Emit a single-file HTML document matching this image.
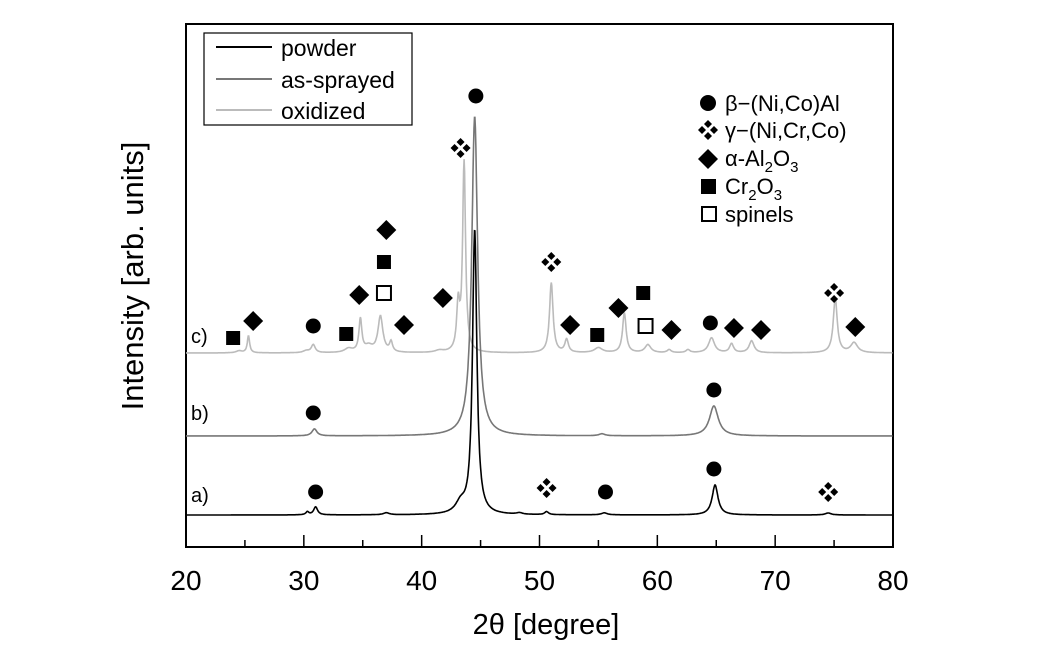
<!DOCTYPE html>
<html><head><meta charset="utf-8"><style>
body{margin:0;background:#fff}
svg{display:block;font-family:"Liberation Sans",Arial,sans-serif}
</style></head><body>
<svg id="chart" width="1038" height="661" viewBox="0 0 1038 661" xmlns="http://www.w3.org/2000/svg">
<rect x="186" y="24" width="707" height="523" fill="none" stroke="#000" stroke-width="2"/>
<g id="ticks"></g>
<g id="series"></g>
<g id="marks"></g>
<text x="546" y="634" font-size="29" text-anchor="middle">2θ [degree]</text>
<text transform="translate(143,276) rotate(-90)" font-size="31" text-anchor="middle">Intensity [arb. units]</text>
<text x="191" y="343" font-size="20">c)</text>
<text x="191" y="420" font-size="20">b)</text>
<text x="191" y="502" font-size="20">a)</text>
<g>
<rect x="204" y="33" width="208" height="92" fill="#fff" stroke="#000" stroke-width="1.2"/>
<line x1="216" y1="47" x2="272" y2="47" stroke="#000" stroke-width="2"/>
<line x1="216" y1="79" x2="272" y2="79" stroke="#777" stroke-width="2"/>
<line x1="216" y1="110" x2="272" y2="110" stroke="#bbb" stroke-width="2"/>
<text x="281" y="56" font-size="23">powder</text>
<text x="281" y="88" font-size="23">as-sprayed</text>
<text x="281" y="119" font-size="23">oxidized</text>
</g>
<g font-size="22">
<circle cx="708" cy="103" r="8"/><text x="725" y="111">β−(Ni,Co)Al</text>
<g transform="translate(708,130)"><polygon points="0,-10 4,-6 0,-2 -4,-6"/><polygon points="0,2 4,6 0,10 -4,6"/><polygon points="-6,-4 -2,0 -6,4 -10,0"/><polygon points="6,-4 10,0 6,4 2,0"/></g><text x="725" y="138">γ−(Ni,Cr,Co)</text>
<polygon points="708,149 718,159 708,169 698,159"/><text x="725" y="166">α-Al<tspan font-size="15" dy="6">2</tspan><tspan dy="-6">O</tspan><tspan font-size="15" dy="6">3</tspan></text>
<rect x="701" y="179" width="15" height="15"/><text x="725" y="194">Cr<tspan font-size="15" dy="6">2</tspan><tspan dy="-6">O</tspan><tspan font-size="15" dy="6">3</tspan></text>
<rect x="702" y="207" width="14" height="14" fill="#fff" stroke="#000" stroke-width="2"/><text x="725" y="222">spinels</text>
</g>
</svg>
<script>
const NS="http://www.w3.org/2000/svg";
const xTicks=[20,30,40,50,60,70,80];
// peak lists: position (deg), height (arb), width (deg)
const powderPos=[30.3,31.0,37.0,43.3,44.5,48.3,50.6,55.5,64.9,74.5];
const powderH=[3,8,2,10,285,1.5,3,2,30,2];
const powderW=[0.15,0.2,0.3,0.5,0.22,0.3,0.2,0.3,0.3,0.3];
const spraydPos=[30.9,44.5,55.3,64.8];
const spraydH=[7,320,2,30];
const spraydW=[0.25,0.3,0.3,0.45];
const oxPos=[24.5,25.3,30.2,30.8,33.8,34.8,35.5,36.5,37.4,41.5,43.1,43.6,51.0,52.3,55.0,57.2,59.2,61.0,62.6,64.6,66.3,68.0,75.1,76.7];
const oxH=[2,17,2,8,4,33,6,36,10,2,45,190,70,13,5,40,8,3,3,15,9,12,55,10];
const oxW=[0.3,0.12,0.3,0.2,0.4,0.15,0.4,0.25,0.15,0.4,0.15,0.15,0.18,0.18,0.4,0.18,0.3,0.2,0.2,0.3,0.2,0.25,0.2,0.35];
const offsets=[32,111,194];
const x=d=>186+(d-20)*(707/60);
const y=v=>547-v;
const tg=document.getElementById('ticks');
for(let d=20;d<=80;d+=5){
 const l=document.createElementNS(NS,'line');
 
 
 const len=d%10===0?12:7;
 l.setAttribute('x1',x(d));l.setAttribute('x2',x(d));l.setAttribute('y1',547);l.setAttribute('y2',547-len);
 l.setAttribute('stroke','#000');l.setAttribute('stroke-width','1.5');tg.appendChild(l);
}
xTicks.forEach(d=>{
 const t=document.createElementNS(NS,'text');
 
 
 t.setAttribute('x',x(d));t.setAttribute('y',590);t.setAttribute('font-size','28');t.setAttribute('text-anchor','middle');
 t.textContent=d;tg.appendChild(t);
});
function curve(pos,h,w,off){
 let pts=[];
 for(let d=20;d<=80;d+=0.04){
  let v=off;
  for(let i=0;i<pos.length;i++){const u=(d-pos[i])/w[i];v+=h[i]/(1+u*u);}
  pts.push(x(d).toFixed(1)+','+y(v).toFixed(1));
 }
 return pts.join(' ');
}
const sg=document.getElementById('series');
[[oxPos,oxH,oxW,2,'#bbb','oxidized-line'],[spraydPos,spraydH,spraydW,1,'#777','as-sprayed-line'],[powderPos,powderH,powderW,0,'#000','powder-line']].forEach(s=>{
 const p=document.createElementNS(NS,'polyline');
 
 
 p.setAttribute('points',curve(s[0],s[1],s[2],offsets[s[3]]));
 p.setAttribute('fill','none');p.setAttribute('stroke',s[4]);p.setAttribute('stroke-width','1.6');
 sg.appendChild(p);
});
// markers: type, deg, y px
const markType=['c','c','g','c','c','c','c','g','c','c','g','d','d','d','d','d','d','d','d','d','d','d','g','g','s','s','s','s','s','o','o'];
const markDeg=[44.6,31.0,50.6,55.6,64.8,30.8,64.8,43.3,30.8,64.5,51.0,25.7,34.7,37.0,38.5,41.8,52.6,56.7,61.2,66.5,68.8,76.8,75.0,74.5,24.0,33.6,36.8,54.9,58.8,36.8,59.0];
const markY=[96,492,488,492,469,413,390,148,326,323,262,321,295,230,325,298,325,308,330,328,330,327,293,492,338,334,262,335,293,293,326];
const mg=document.getElementById('marks');
function diamond(cx,cy,r){return `${cx},${cy-r} ${cx+r},${cy} ${cx},${cy+r} ${cx-r},${cy}`;}
for(let i=0;i<markType.length;i++){
 const cx=x(markDeg[i]),cy=markY[i],t=markType[i];
 let el;
 if(t==='c'){el=document.createElementNS(NS,'circle');el.setAttribute('cx',cx);el.setAttribute('cy',cy);el.setAttribute('r',7.5);}
 else if(t==='d'){el=document.createElementNS(NS,'polygon');el.setAttribute('points',diamond(cx,cy,10));}
 else if(t==='s'){el=document.createElementNS(NS,'rect');el.setAttribute('x',cx-7);el.setAttribute('y',cy-7);el.setAttribute('width',14);el.setAttribute('height',14);}
 else if(t==='o'){el=document.createElementNS(NS,'rect');el.setAttribute('x',cx-7);el.setAttribute('y',cy-7);el.setAttribute('width',14);el.setAttribute('height',14);el.setAttribute('fill','#fff');el.setAttribute('stroke','#000');el.setAttribute('stroke-width','2');}
 else {el=document.createElementNS(NS,'g');
  [[0,-6],[0,6],[-6,0],[6,0]].forEach(o=>{const q=document.createElementNS(NS,'polygon');q.setAttribute('points',diamond(cx+o[0],cy+o[1],4));el.appendChild(q);});}
 
 
 mg.appendChild(el);
}
</script>
</body></html>
